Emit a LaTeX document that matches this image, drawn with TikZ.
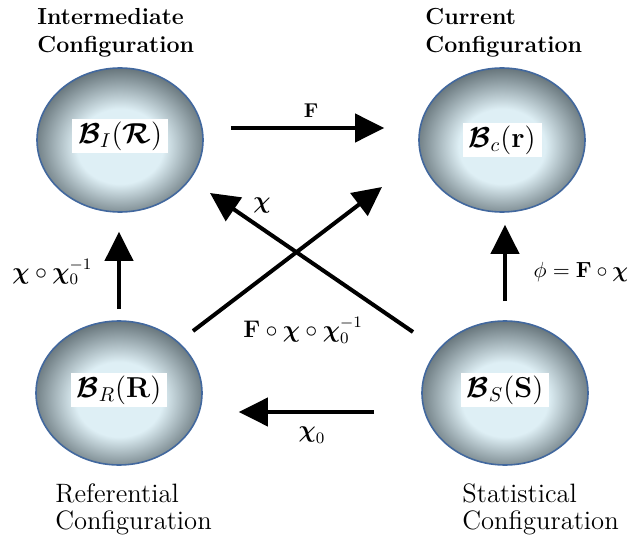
\documentclass[tikz,border=0pt]{standalone}
\usepackage{amsmath}
\usepackage{amssymb}
\usepackage{xcolor}
\usepackage{tikz}
\usetikzlibrary{arrows.meta,shapes.geometric}

\definecolor{bodyin}{RGB}{222,239,245}
\definecolor{bodyout}{RGB}{98,112,118}
\definecolor{bodyedge}{RGB}{66,104,158}
\pgfdeclareradialshading{bodyshade}{\pgfpoint{0bp}{-3bp}}{color(0bp)=(bodyin); color(13bp)=(bodyin); color(27bp)=(bodyout); color(50bp)=(bodyout)}

\newcommand{\bB}{\boldsymbol{\mathcal{B}}}
\newcommand{\bchi}{\boldsymbol{\chi}}

\begin{document}
\begin{tikzpicture}[>={Triangle[length=14.5pt,width=14pt]},x=0.5pt,y=-0.5pt,
    body/.style={ellipse,draw=bodyedge,line width=0.8pt,shading=bodyshade,
      minimum width=83pt,minimum height=72pt,inner sep=0pt},
    tag/.style={fill=white,inner xsep=3pt,inner ysep=1.5pt,font=\fontsize{14}{16}\selectfont},
    conn/.style={line width=2pt,->},
    title/.style={align=left,inner sep=0pt,anchor=north west},
    lbl/.style={font=\fontsize{12}{14}\selectfont}]
      \useasboundingbox (0,0) rectangle (632,535);
      % bodies
      \node[body] (I) at (120,140) {};
      \node[body] (C) at (502,140) {};
      \node[body] (R) at (119,393) {};
      \node[body] (S) at (505,393) {};
      \node[tag] (tI) at ([yshift=2pt]I.center) {$\bB_I(\boldsymbol{\mathcal{R}})$};
      \node[tag] (tC) at (C.center) {$\bB_c(\mathbf{r})$};
      \node[tag] (tR) at ([yshift=1.5pt]R.center) {$\bB_R(\mathbf{R})$};
      \node[tag] (tS) at ([yshift=1.5pt]S.center) {$\bB_S(\mathbf{S})$};
      % titles
      \node[title,font=\fontsize{11.6}{14}\selectfont\bfseries] (nI) at (37,8) {Intermediate\\Configuration};
      \node[title,font=\fontsize{11.6}{14}\selectfont\bfseries] (nC) at (425,8) {Current\\Configuration};
      \node[title,font=\fontsize{13.3}{13.5}\selectfont] (nR) at (55,483) {Referential\\Configuration};
      \node[title,font=\fontsize{13.3}{13.5}\selectfont] (nS) at (462,483) {Statistical\\Configuration};
      % maps
      \draw[conn,shorten <=13.5pt,shorten >=17pt] ([yshift=6pt]I.east) -- ([yshift=6pt]C.west)
        node[midway,above=1pt,font=\fontsize{10}{12}\selectfont] (lF) {$\mathbf{F}$};
      \draw[conn,shorten <=23.5pt,shorten >=18pt] ([yshift=-9.5pt]S.west) -- ([yshift=-9.5pt]R.east)
        node[midway,below=3pt,lbl] (lchi0) {$\bchi_0$};
      \draw[conn,shorten <=5.5pt,shorten >=9.5pt] (R.north) -- (R.north |- I.south)
        node[pos=0.45,left=9pt,lbl] (lchichi) {$\bchi\circ\bchi_0^{-1}$};
      \draw[conn,shorten <=9.5pt,shorten >=6pt] (S.north) -- (S.north |- C.south)
        node[pos=0.45,right=10pt,font=\fontsize{11}{13}\selectfont] (lphi) {$\phi=\mathbf{F}\circ\bchi$};
      \draw[conn] ([shift={(74,-62)}]R.center) -- ([shift={(-120,47)}]C.center);
      \draw[conn] ([shift={(-92,-61)}]S.center) -- ([shift={(90,53)}]I.center);
      \node[lbl] (lchi) at (262,205) {$\bchi$};
      \node[lbl] (lFchi) at (303,330) {$\mathbf{F}\circ\bchi\circ\bchi_0^{-1}$};
    \end{tikzpicture}
\end{document}
